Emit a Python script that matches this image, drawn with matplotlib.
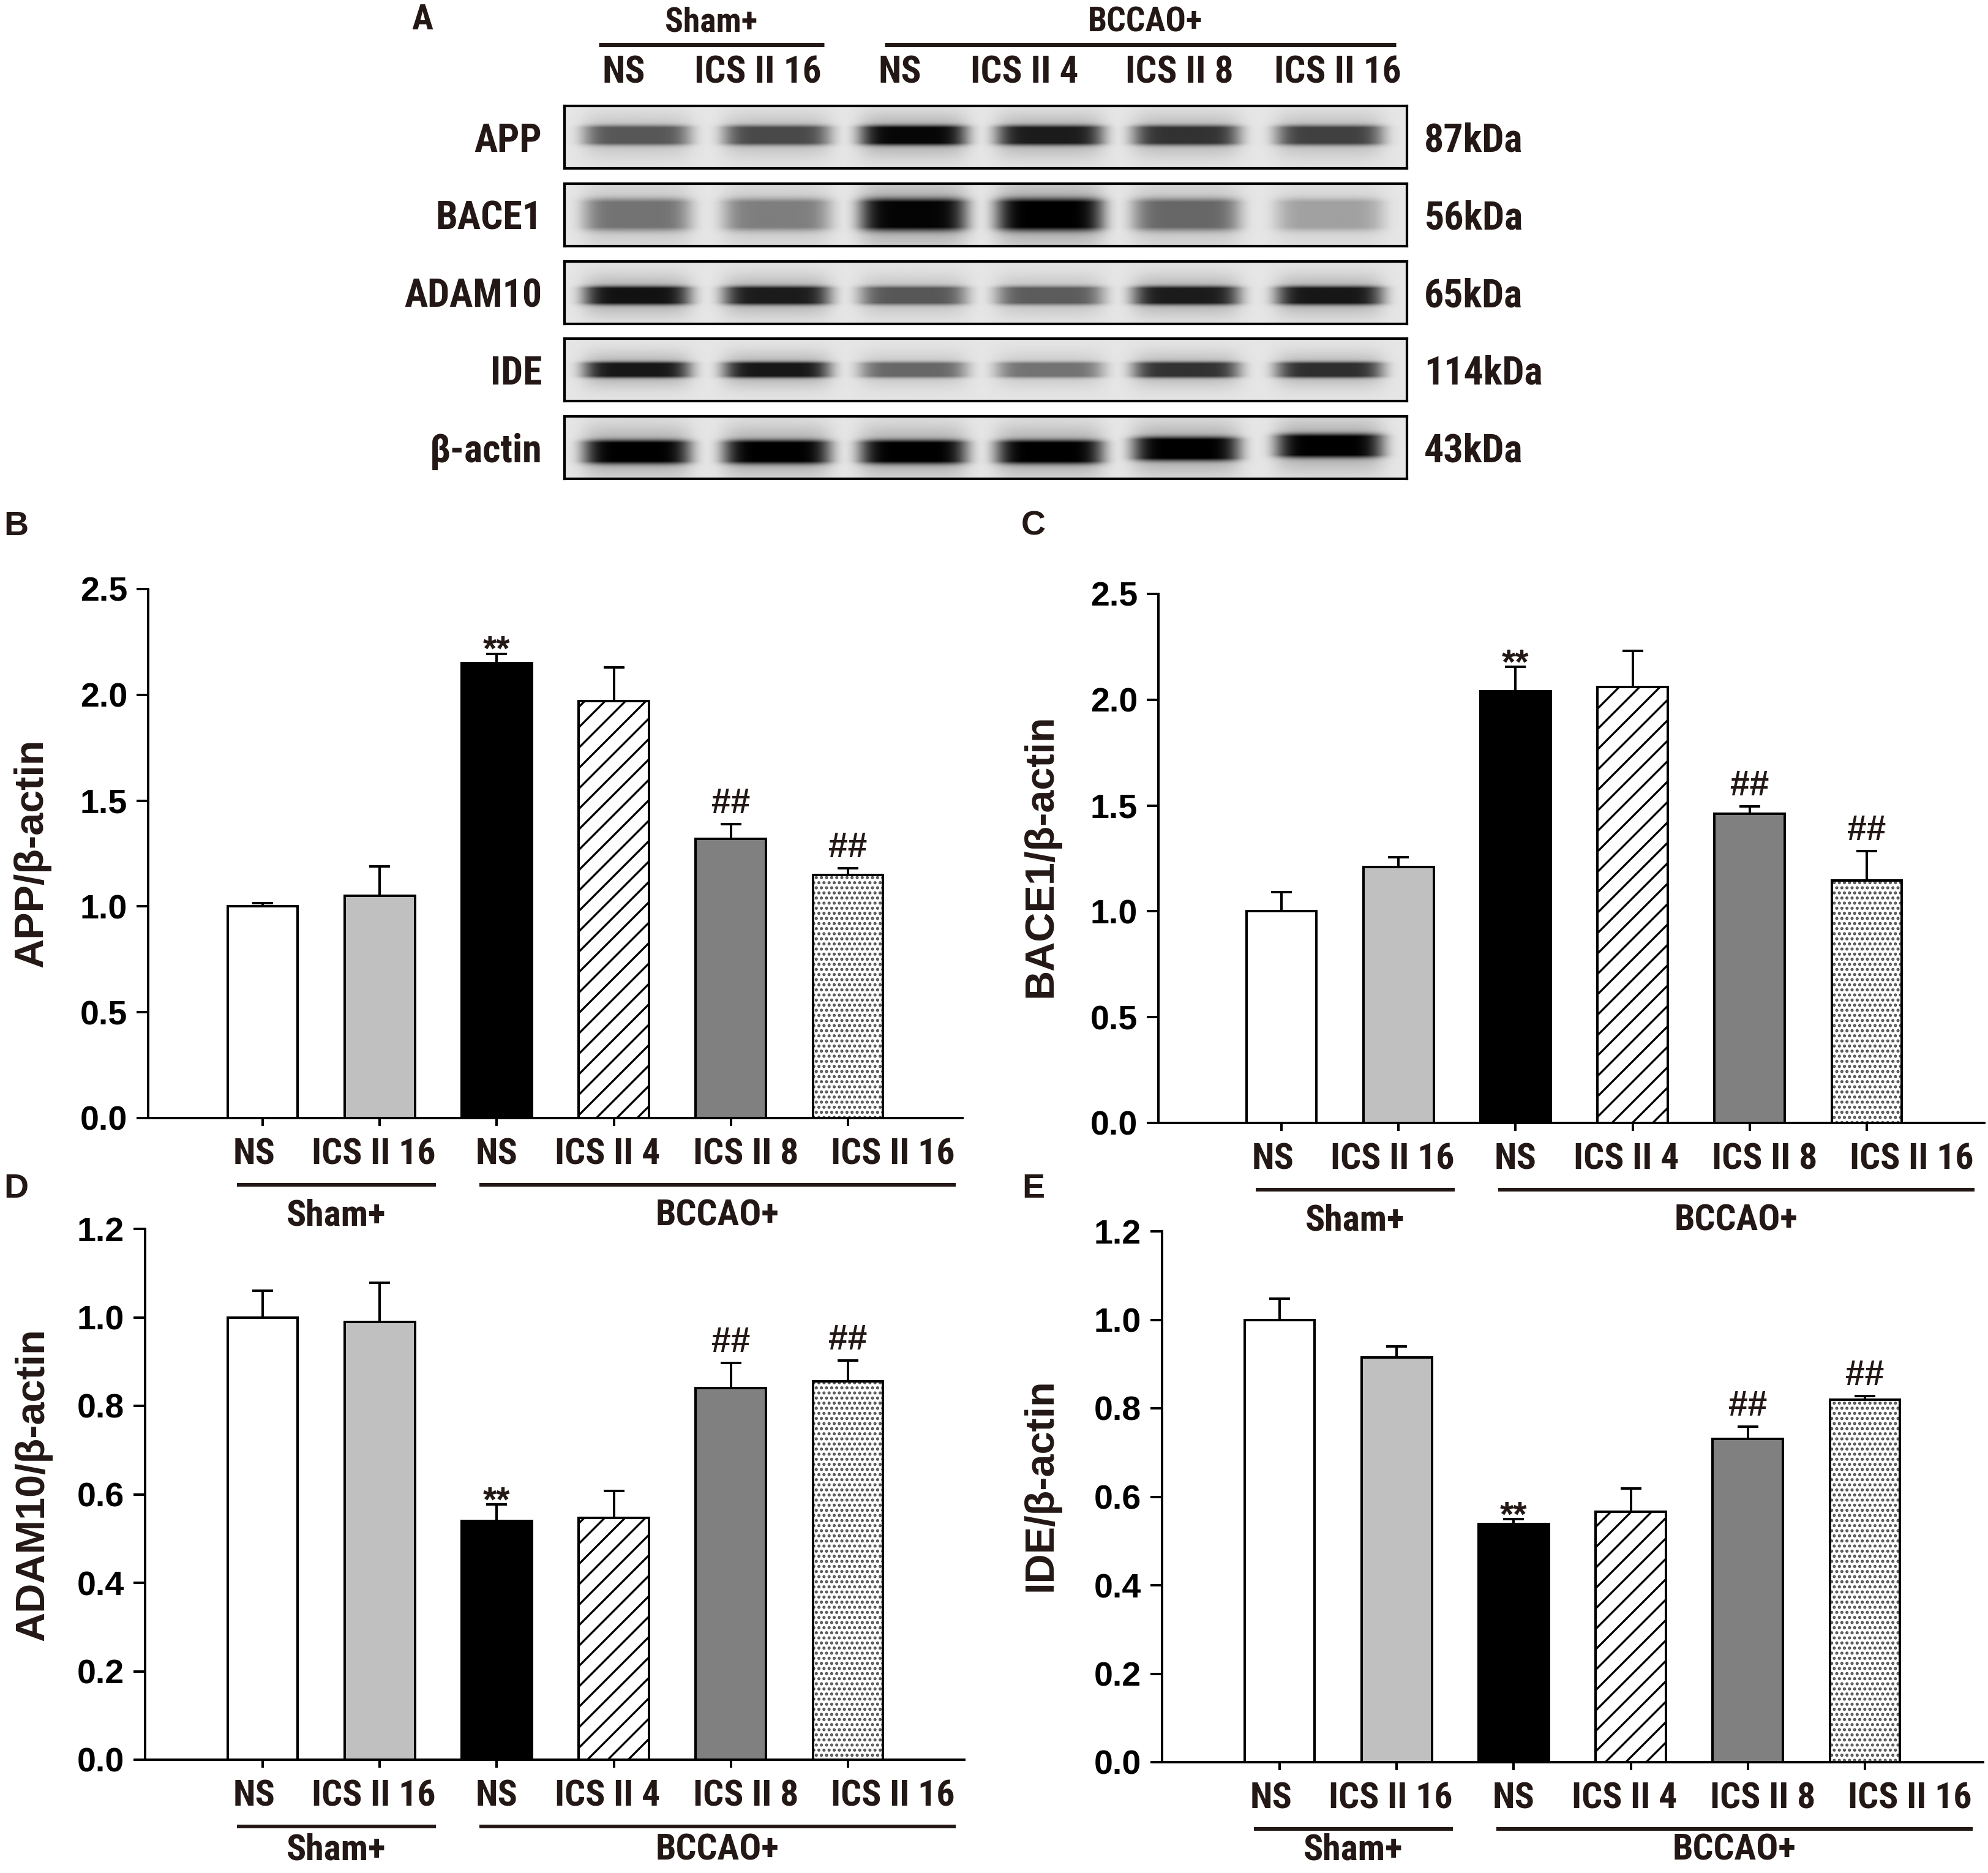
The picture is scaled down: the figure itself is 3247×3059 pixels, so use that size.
import numpy as np
import matplotlib
matplotlib.use("Agg")
import matplotlib.pyplot as plt
import matplotlib.font_manager as fm
from matplotlib.transforms import blended_transform_factory

# ---------------- data ----------------
groups = ["NS", "ICS II 16", "NS", "ICS II 4", "ICS II 8", "ICS II 16"]
group_names = ["Sham+", "BCCAO+"]

app_mean = [1.00, 1.05, 2.15, 1.97, 1.32, 1.15]
app_sem = [0.015, 0.14, 0.044, 0.16, 0.07, 0.03]
bace1_mean = [1.00, 1.21, 2.04, 2.06, 1.46, 1.145]
bace1_sem = [0.09, 0.045, 0.115, 0.17, 0.035, 0.14]
adam10_mean = [1.00, 0.99, 0.54, 0.547, 0.84, 0.855]
adam10_sem = [0.06, 0.088, 0.037, 0.06, 0.057, 0.048]
ide_mean = [1.00, 0.915, 0.538, 0.566, 0.731, 0.819]
ide_sem = [0.048, 0.025, 0.011, 0.053, 0.027, 0.009]

star_idx = [2]
hash_idx = [4, 5]

blot_rows = ["APP", "BACE1", "ADAM10", "IDE", "β-actin"]
blot_kda = ["87kDa", "56kDa", "65kDa", "114kDa", "43kDa"]
app_band = [0.62, 0.68, 0.97, 0.88, 0.78, 0.72]
bace1_band = [0.50, 0.45, 0.98, 1.00, 0.55, 0.30]
adam10_band = [0.92, 0.88, 0.62, 0.60, 0.88, 0.90]
ide_band = [0.90, 0.90, 0.55, 0.50, 0.78, 0.80]
actin_band = [1.00, 1.00, 1.00, 1.00, 1.00, 1.00]

# ---------------- fonts ----------------
names = {f.name for f in fm.fontManager.ttflist}
NARROW = None
for cand in ["Liberation Sans Narrow", "Arial Narrow", "Roboto Condensed",
             "Open Sans Condensed", "DejaVu Sans Condensed"]:
    if cand in names:
        NARROW = cand
        break
if NARROW is None:
    NARROW = "Liberation Sans"
SANS = "Liberation Sans"
TXT = "#231815"

W, H = 3247, 3059
DPI = 100
fig = plt.figure(figsize=(W / DPI, H / DPI), dpi=DPI)
plt.rcParams["hatch.linewidth"] = 2.4

PT = 72.0 / DPI  # points per pixel


def fx(px):
    return px / W


def fy(py):
    return 1 - py / H


# ---------------- panel A (blots) ----------------
box_l, box_r = 922, 2298
row_tops = [173, 300, 427, 553, 680]
row_h = 102
lane_x = [0.086, 0.252, 0.414, 0.576, 0.738, 0.908]
lane_hw = 0.064
row_geom = [(0.47, 0.15), (0.50, 0.24), (0.55, 0.14), (0.50, 0.12), (0.57, 0.18)]
actin_shift = [0.0, 0.0, 0.0, 0.0, -0.05, -0.10]
bands = [app_band, bace1_band, adam10_band, ide_band, actin_band]

nx, ny = 700, 100
xs = (np.arange(nx) + 0.5) / nx
ys = (np.arange(ny) + 0.5) / ny
XX, YY = np.meshgrid(xs, ys)
bg = 0.90

for r in range(5):
    top = row_tops[r]
    ax = fig.add_axes([fx(box_l), fy(top + row_h), fx(box_r) - fx(box_l), row_h / H])
    yc, hy = row_geom[r]
    dark = np.zeros_like(XX)
    for k in range(6):
        shift = actin_shift[k] if r == 4 else 0.0
        gx = np.exp(-np.abs((XX - lane_x[k]) / lane_hw) ** 6)
        gy = np.exp(-np.abs((YY - (yc + shift)) / hy) ** 4)
        halo = 0.3 * np.exp(-((YY - (yc + shift)) / (2.2 * hy)) ** 2)
        dark = np.maximum(dark, bands[r][k] * gx * np.minimum(1.0, 1.15 * gy + halo))
    img = bg * (1 - np.clip(dark, 0, 1))
    ax.imshow(img, cmap="gray", vmin=0, vmax=1, aspect="auto",
              extent=[0, 1, 1, 0], interpolation="bilinear")
    ax.set_xticks([])
    ax.set_yticks([])
    for s in ax.spines.values():
        s.set_linewidth(3.0)
        s.set_color("black")
    yc_px = top + row_h / 2 + 6
    fig.text(fx(885), fy(yc_px), blot_rows[r], ha="right", va="center",
             fontsize=46, fontweight="bold", family=[NARROW, "DejaVu Sans"], color=TXT)
    fig.text(fx(2326), fy(yc_px), blot_kda[r], ha="left", va="center",
             fontsize=46, fontweight="bold", family=[NARROW, "DejaVu Sans"], color=TXT)

fig.text(fx(690), fy(32), "A", ha="center", va="center", fontsize=42,
         fontweight="bold", family=NARROW, color=TXT)
fig.text(fx(1162), fy(36), group_names[0], ha="center", va="center", fontsize=40,
         fontweight="bold", family=NARROW, color=TXT)
fig.text(fx(1870), fy(36), group_names[1], ha="center", va="center", fontsize=40,
         fontweight="bold", family=NARROW, color=TXT)
fig.add_artist(plt.Line2D([fx(978), fx(1346)], [fy(73), fy(73)], color=TXT, lw=7 * PT,
                          solid_capstyle="butt"))
fig.add_artist(plt.Line2D([fx(1445), fx(2280)], [fy(73), fy(73)], color=TXT, lw=7 * PT,
                          solid_capstyle="butt"))
lane_lbl_x = [1019, 1238, 1470, 1673, 1926, 2185]
for g, lx in zip(groups, lane_lbl_x):
    fig.text(fx(lx), fy(119), g, ha="center", va="center", fontsize=44,
             fontweight="bold", family=NARROW, color=TXT)

# ---------------- bar panels ----------------
faces = ["white", "#c0c0c0", "black", "white", "#808080", "white"]
hatches = [None, None, None, "/", None, None]
label_shift = [-0.075, -0.05, 0.0, -0.055, 0.13, 0.385]
LW = 4 * PT


def bar_panel(left, right, top, bottom, x0px, ymax, yticks, means, sems,
              ylabel, ylabel_x, ylabel_y, group_off):
    ax = fig.add_axes([fx(left), fy(bottom), (right - left) / W, (bottom - top) / H])
    spacing = 191.2
    ax.set_xlim((left - x0px) / spacing, (right - x0px) / spacing)
    ax.set_ylim(0, ymax)
    x = np.arange(len(means))
    for i in range(len(means)):
        if i == 5:
            ax.bar(x[i], means[i], 0.6, color="white", edgecolor="#505050",
                   hatch="..", linewidth=0, zorder=3)
            ax.bar(x[i], means[i], 0.6, fill=False, edgecolor="black",
                   linewidth=LW, zorder=4)
        else:
            ax.bar(x[i], means[i], 0.6, color=faces[i], edgecolor="black",
                   hatch=hatches[i], linewidth=LW, zorder=3)
    ax.errorbar(x, means, yerr=[np.zeros(len(means)), sems], fmt="none",
                ecolor="black", elinewidth=LW, capsize=12, capthick=LW, zorder=2)
    for i in star_idx:
        ax.annotate("**", xy=(x[i], means[i] + sems[i]), xytext=(0, -8),
                    textcoords="offset points", ha="center", va="baseline",
                    fontsize=41, fontweight="bold", family=SANS, color=TXT)
    for i in hash_idx:
        ax.annotate("##", xy=(x[i], means[i] + sems[i]), xytext=(0, 13),
                    textcoords="offset points", ha="center", va="baseline",
                    fontsize=41, fontweight="bold", family=SANS, color=TXT)
    for s in ["top", "right"]:
        ax.spines[s].set_visible(False)
    for s in ["left", "bottom"]:
        ax.spines[s].set_linewidth(LW)
    ax.set_yticks(yticks)
    ax.set_yticklabels([f"{t:.1f}" for t in yticks], fontsize=40,
                       fontweight="bold", family=SANS)
    ax.tick_params(axis="y", length=19 * PT, width=LW, pad=15 * PT)
    ax.set_xticks(x)
    ax.set_xticklabels([])
    ax.tick_params(axis="x", length=13 * PT, width=LW)
    hpx = bottom - top
    tr = blended_transform_factory(ax.transData, ax.transAxes)
    for i, g in enumerate(groups):
        ax.text(x[i] + label_shift[i], -60 / hpx, g, transform=tr, ha="center",
                va="center", fontsize=43, fontweight="bold", family=NARROW, color=TXT)
    spans = [(-0.22, 1.48), (1.85, 5.92)]
    for (a, b), name in zip(spans, group_names):
        ax.plot([a, b], [-109 / hpx, -109 / hpx], transform=tr, color=TXT,
                lw=6 * PT, clip_on=False, solid_capstyle="butt")
        ax.text((a + b) / 2, -group_off / hpx, name, transform=tr, ha="center",
                va="center", fontsize=43, fontweight="bold", family=NARROW, color=TXT)
    fig.text(fx(ylabel_x), fy(ylabel_y), ylabel, rotation=90, ha="center",
             va="center", fontsize=48, fontweight="bold", family=SANS, color=TXT)
    return ax


bar_panel(242, 1572, 962, 1826, 429, 2.5, [0, 0.5, 1.0, 1.5, 2.0, 2.5],
          app_mean, app_sem, "APP/β-actin", 52, 1393, 160)
bar_panel(1892, 3241, 970, 1834, 2093, 2.5, [0, 0.5, 1.0, 1.5, 2.0, 2.5],
          bace1_mean, bace1_sem, "BACE1/β-actin", 1700, 1398, 160)
bar_panel(237, 1575, 2007, 2874, 429, 1.2, [0, 0.2, 0.4, 0.6, 0.8, 1.0, 1.2],
          adam10_mean, adam10_sem, "ADAM10/β-actin", 54, 2425, 147)
bar_panel(1898, 3239, 2011, 2878, 2090, 1.2, [0, 0.2, 0.4, 0.6, 0.8, 1.0, 1.2],
          ide_mean, ide_sem, "IDE/β-actin", 1700, 2425, 143)

for letter, (lx, ly) in zip("BCDE", [(26, 860), (1688, 860), (26, 1942), (1688, 1942)]):
    fig.text(fx(lx), fy(ly), letter, ha="center", va="center", fontsize=40,
             fontweight="bold", family=SANS, color=TXT)

fig.savefig("out.png", dpi=DPI)
